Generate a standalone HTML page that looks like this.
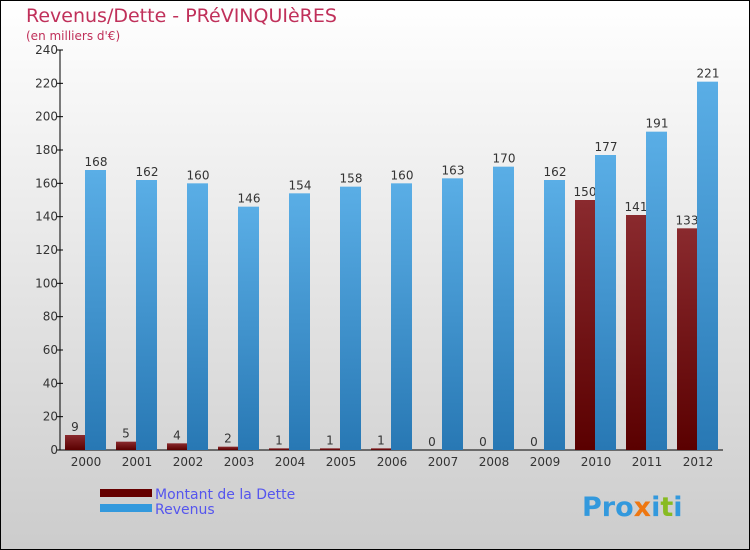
<!DOCTYPE html>
<html><head><meta charset="utf-8"><style>
body{margin:0;}
svg{display:block;font-family:"DejaVu Sans","Liberation Sans",sans-serif;}
</style></head><body>
<svg id="c" width="750" height="550">
<defs>
<linearGradient id="bg" x1="0" y1="0" x2="0" y2="1"><stop offset="0" stop-color="#ffffff"/><stop offset="1" stop-color="#cccccc"/></linearGradient>
<linearGradient id="gd" x1="0" y1="0" x2="0" y2="1"><stop offset="0" stop-color="#8a2a2e"/><stop offset="1" stop-color="#5a0000"/></linearGradient>
<linearGradient id="gr" x1="0" y1="0" x2="0" y2="1"><stop offset="0" stop-color="#5aaee6"/><stop offset="1" stop-color="#2878b4"/></linearGradient>
</defs>
<rect x="0.5" y="0.5" width="749" height="549" fill="url(#bg)" stroke="#000"/>
<text x="26" y="22" font-size="19" fill="#c0305a">Revenus/Dette - PRéVINQUIèRES</text>
<text x="26" y="40" font-size="12" fill="#c0305a">(en milliers d'€)</text>
<g id="plot"></g>
<rect x="100" y="489" width="52" height="8" fill="#660000"/>
<rect x="100" y="504" width="52" height="8" fill="#3399dd"/>
<text x="155" y="499" font-size="14" fill="#5555ee">Montant de la Dette</text>
<text x="155" y="514" font-size="14" fill="#5555ee">Revenus</text>
<text x="582" y="516" font-size="27" font-weight="bold"><tspan fill="#3399dd">Pro</tspan><tspan fill="#ee7711">x</tspan><tspan fill="#3399dd">i</tspan><tspan fill="#88bb22">t</tspan><tspan fill="#3399dd">i</tspan></text>
</svg>
<script>
const categories=["2000","2001","2002","2003","2004","2005","2006","2007","2008","2009","2010","2011","2012"];
const dette=[9,5,4,2,1,1,1,0,0,0,150,141,133];
const revenus=[168,162,160,146,154,158,160,163,170,162,177,191,221];
const yTicks=[0,20,40,60,80,100,120,140,160,180,200,220,240];
const NS="http://www.w3.org/2000/svg";
const g=document.getElementById("plot");
const x0=60,step=51,yBase=450,yTop=50,yMax=240;
const y=v=>yBase-(v/yMax)*(yBase-yTop);
function el(t,a,txt){const e=document.createElementNS(NS,t);for(const k in a)e.setAttribute(k,a[k]);if(txt!=null)e.textContent=txt;g.appendChild(e);return e;}
let ax=el("line",{x1:x0,y1:yTop,x2:x0,y2:yBase,stroke:"#000"});


let xa=el("line",{x1:x0,y1:yBase,x2:x0+step*categories.length,y2:yBase,stroke:"#000"});


yTicks.forEach(v=>{
 let t=el("line",{x1:x0-3,y1:y(v),x2:x0+3,y2:y(v),stroke:"#000"});
 
 
 let l=el("text",{x:x0-2,y:y(v)+4,"font-size":12,"text-anchor":"end",fill:"#333"},v);
 
 
});
categories.forEach((c,i)=>{
 const gx=x0+i*step;
 let l=el("text",{x:gx+26,y:466,"font-size":12,"text-anchor":"middle",fill:"#333"},c);
 
 
 let b=el("rect",{x:gx+5,y:y(dette[i]),width:20,height:yBase-y(dette[i]),fill:"url(#gd)"});
 
 
 let bl=el("text",{x:gx+15,y:y(dette[i])-4,"font-size":12,"text-anchor":"middle",fill:"#333"},dette[i]);
 
 
 let r=el("rect",{x:gx+25,y:y(revenus[i]),width:21,height:yBase-y(revenus[i]),fill:"url(#gr)"});
 
 
 let rl=el("text",{x:gx+36,y:y(revenus[i])-4,"font-size":12,"text-anchor":"middle",fill:"#333"},revenus[i]);
 
 
});
</script>
</body></html>
